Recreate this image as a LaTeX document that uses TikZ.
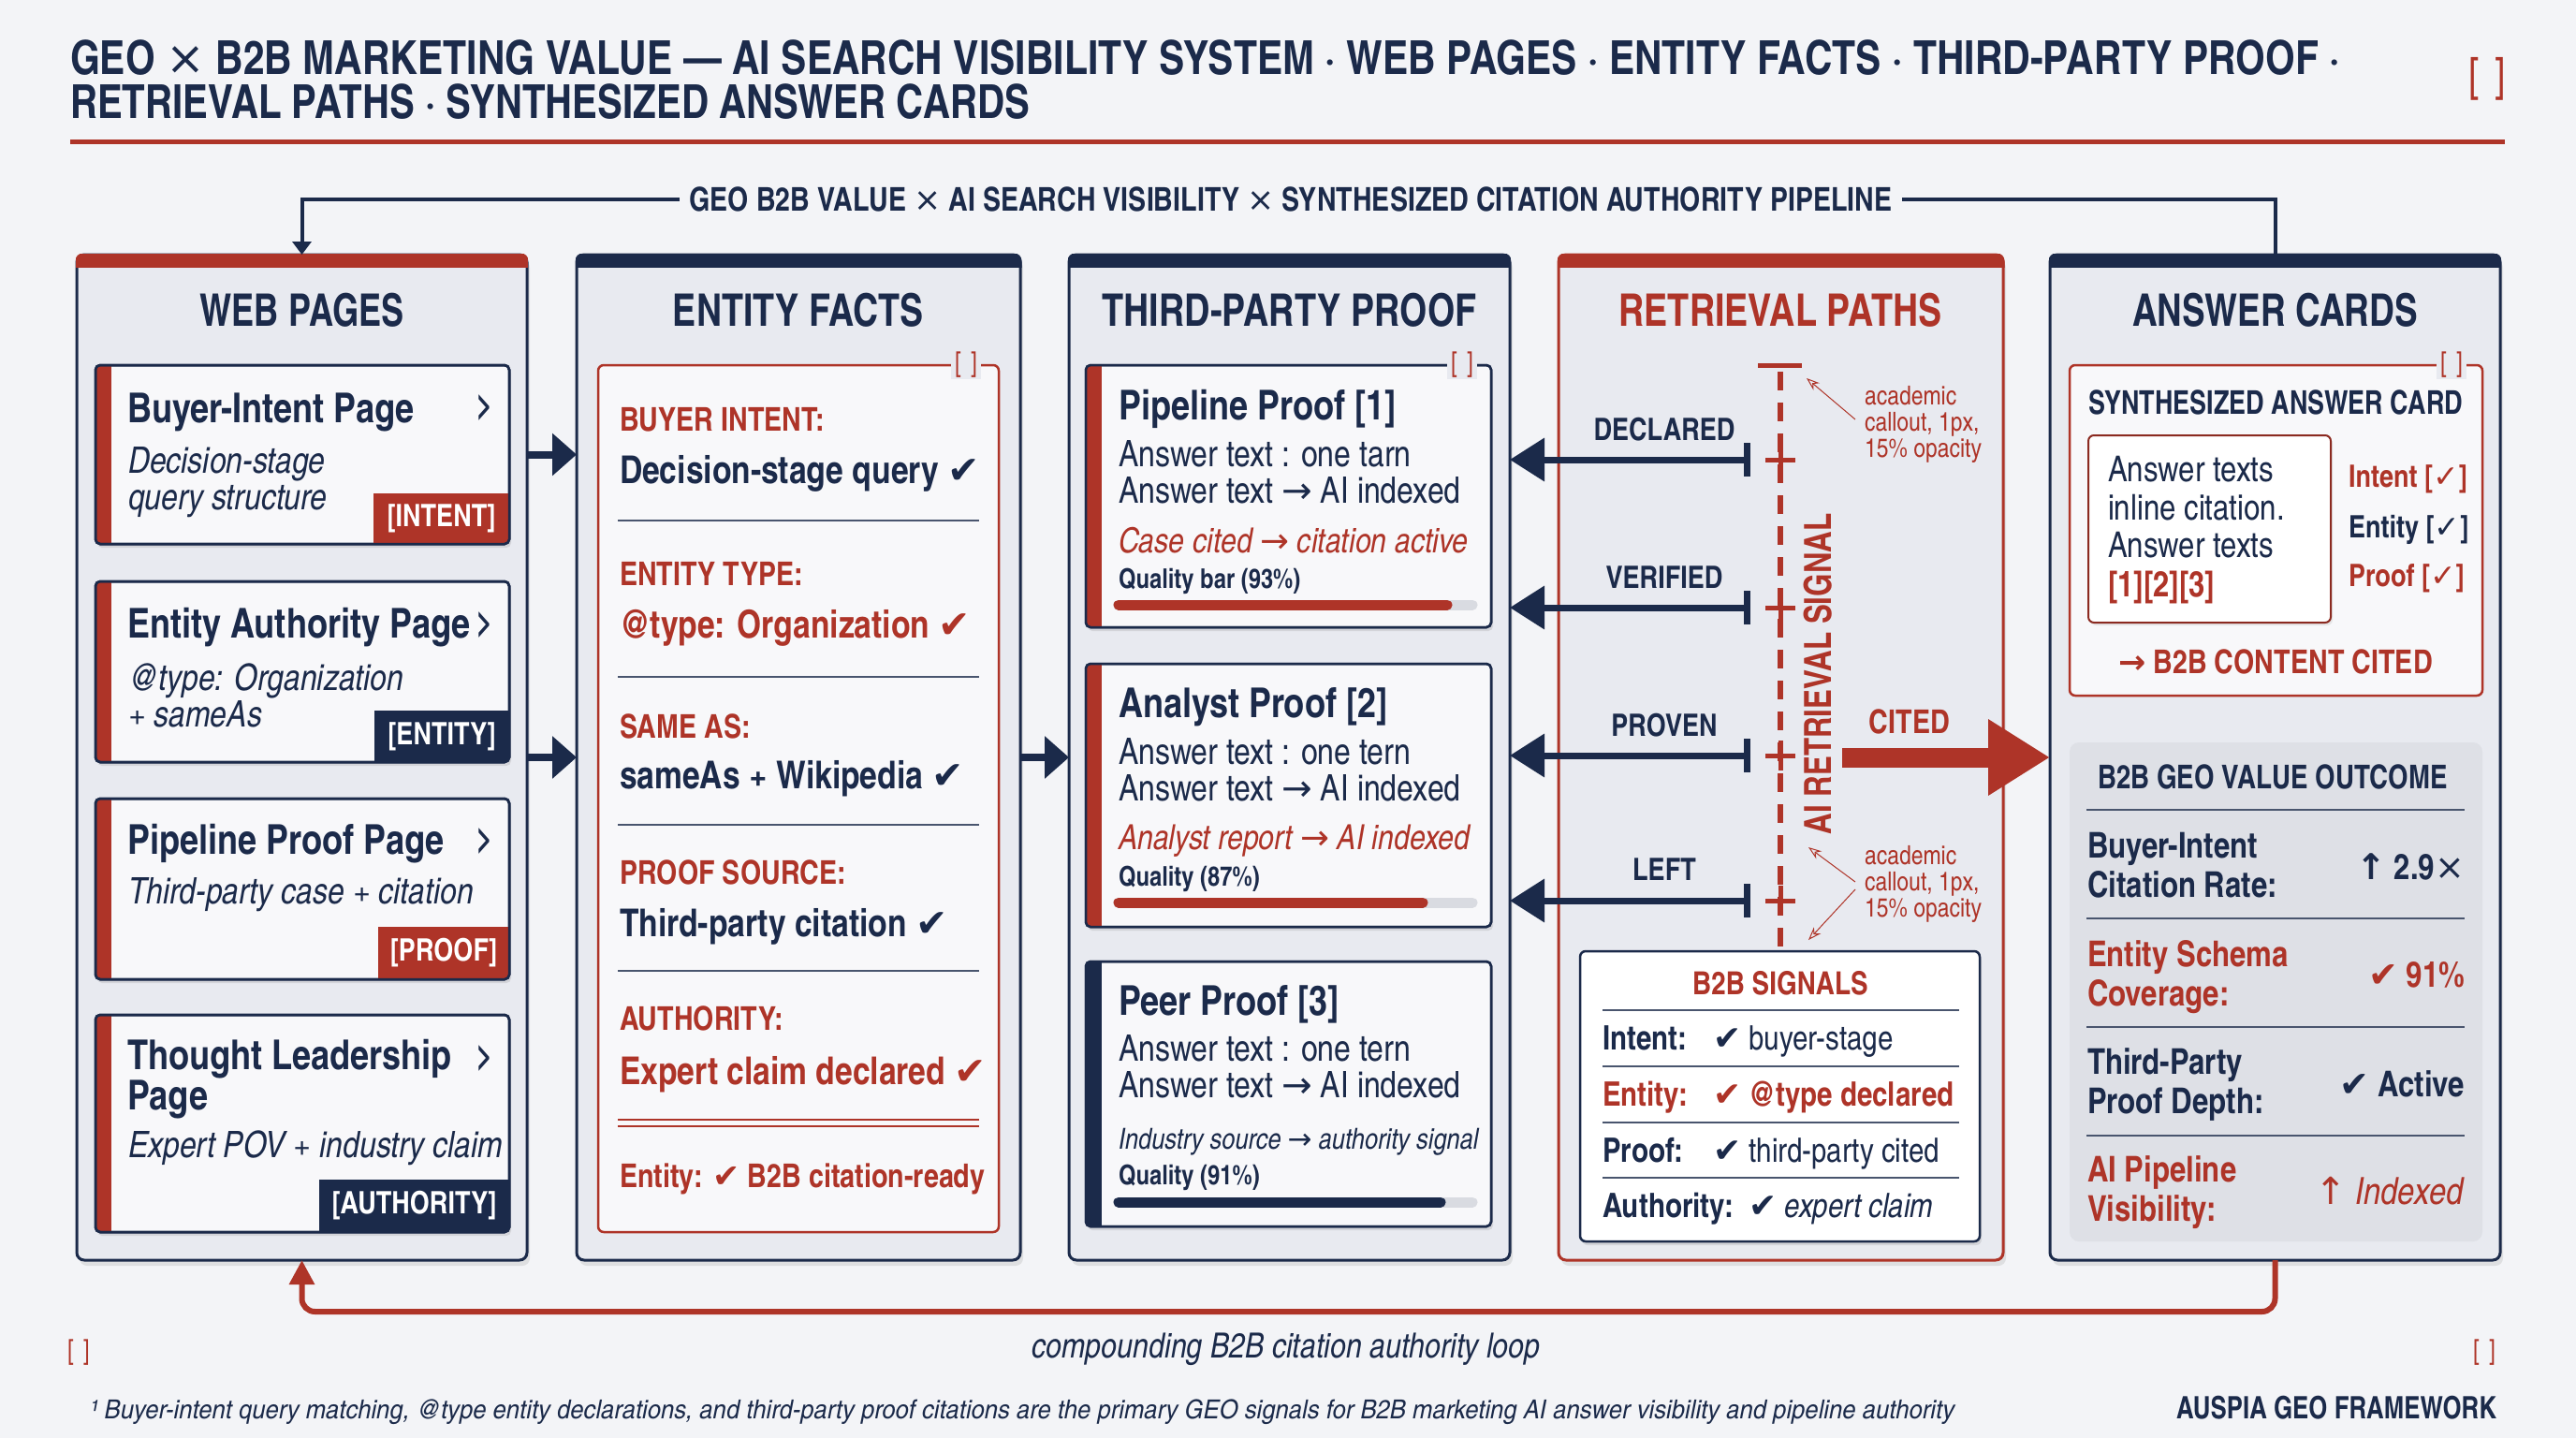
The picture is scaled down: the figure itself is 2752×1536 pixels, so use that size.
\documentclass[tikz,border=0pt]{standalone}
\usepackage{fontspec}
\usepackage{graphicx}
\setmainfont{TeX Gyre Heros}
\newfontfamily\cn{texgyreheroscn}[Extension=.otf,UprightFont=*-regular,BoldFont=*-bold,ItalicFont=*-italic,BoldItalicFont=*-bolditalic]
\newfontfamily\sym{DejaVu Sans}
\usetikzlibrary{arrows.meta,shadows,calc}
\definecolor{navy}{HTML}{1B2A4A}
\definecolor{brick}{HTML}{AE3428}
\definecolor{bgc}{HTML}{F3F4F7}
\definecolor{panelfill}{HTML}{E8EAF0}
\definecolor{cardfill}{HTML}{F8F8FA}
\definecolor{outfill}{HTML}{DEE0E6}
\definecolor{trackc}{HTML}{D9DBE1}
\newcommand\fz[1]{\fontsize{#1pt}{#1pt}\selectfont}
\newcommand\ck{{\sym ✓}}
\newcommand\ckb{{\sym\mdseries ✔}}
\newcommand\arr{{\sym →}}
\newcommand\upa{{\sym ↑}}
\newcommand\tms{{\sym\mdseries ×}}
\newcommand\fitw[2]{\resizebox{#1pt}{\height}{#2}}
\newcommand\cstripe[3]{%
  \begin{scope}
  \clip[rounded corners=5pt] (#1.north west) rectangle (#1.south east);
  \fill[#2] (#1.north west) rectangle ([xshift=#3]#1.south west);
  \end{scope}
  \draw[navy, line width=2.5pt, rounded corners=5pt] (#1.north west) rectangle (#1.south east);}
\newcommand\ctag[6]{%
  \begin{scope}
  \clip[rounded corners=5pt] (#1.north west) rectangle (#1.south east);
  \fill[#2] ([xshift=-#3,yshift=#4]#1.south east) rectangle (#1.south east);
  \end{scope}
  \node[font=\cn\bfseries\fz{33}, text=white] (#6) at ([xshift=-#3/2,yshift=#4/2]#1.south east) {#5};
  \draw[navy, line width=2.5pt, rounded corners=5pt] (#1.north west) rectangle (#1.south east);}
\newcommand\pband[2]{%
  \begin{scope}
  \clip[rounded corners=8pt] ([xshift=-1.5pt,yshift=1.5pt]#1.north west) rectangle ([xshift=1.5pt,yshift=-1.5pt]#1.south east);
  \fill[#2] ([xshift=-1.5pt,yshift=1.5pt]#1.north west) rectangle ([xshift=1.5pt,yshift=-14pt]#1.north east);
  \end{scope}}
\begin{document}
\begin{tikzpicture}[x=1pt,y=-1pt,
  every node/.style={inner sep=0pt,outer sep=0pt},
  tx/.style={anchor=base west,text=navy},
  ctr/.style={anchor=base,text=navy},
  rt/.style={anchor=base east,text=navy},
  panel/.style={fill=panelfill,draw=navy,line width=3pt,rounded corners=8pt,drop shadow={shadow xshift=3pt,shadow yshift=-6pt,opacity=0.18}},
  card/.style={fill=cardfill,draw=navy,line width=2.5pt,rounded corners=5pt,drop shadow={shadow xshift=2pt,shadow yshift=-4pt,opacity=0.2}},
  sepl/.style={draw=navy!80,line width=1.5pt},
  qbar/.style={line width=11pt,line cap=round},
  hdr/.style={anchor=base,font=\cn\bfseries\fz{48},text=navy},
  ctitle/.style={tx,font=\cn\bfseries\fz{44}},
  csub/.style={tx,font=\cn\itshape\fz{39}},
  body/.style={tx,font=\cn\fz{39}},
  chev/.style={font=\cn\bfseries\fz{40},text=navy},
  brk/.style={font=\cn\fz{30},text=brick,fill=panelfill,inner xsep=4pt,inner ysep=1pt},
  eflab/.style={tx,font=\cn\bfseries\fz{35},text=brick},
  efval/.style={tx,font=\cn\bfseries\fz{41}},
  navarr/.style={draw=navy,line width=8pt,-{Triangle[length=26pt,width=44pt]}},
  retarr/.style={draw=navy,line width=7pt,{Triangle[length=37pt,width=45pt]}-{Bar[width=36pt]}},
  rlab/.style={ctr,font=\cn\bfseries\fz{33}},
  callt/.style={tx,font=\cn\fz{28},text=brick},
  callarr/.style={draw=brick,line width=1pt,-{Stealth[open,length=14pt,width=10pt]}},
  siglab/.style={tx,font=\cn\bfseries\fz{36}},
  sigval/.style={tx,font=\cn\fz{36}},
  outlab/.style={tx,font=\cn\bfseries\fz{38}},
  outval/.style={rt,font=\cn\bfseries\fz{38}}
]
\fill[bgc] (0,0) rectangle (2752,1536);
\useasboundingbox (0,0) rectangle (2752,1536);

% ---------- title ----------
\node[tx,font=\cn\bfseries\fz{50}] (ttl1) at (75,80) {\fitw{2425}{GEO \tms{} B2B MARKETING VALUE — AI SEARCH VISIBILITY SYSTEM · WEB PAGES · ENTITY FACTS · THIRD-PARTY PROOF ·}};
\node[tx,font=\cn\bfseries\fz{50}] (ttl2) at (75,127) {\fitw{1025}{RETRIEVAL PATHS · SYNTHESIZED ANSWER CARDS}};
\node[font=\cn\fz{50},text=brick] (tbr) at (2657,84) {[\,\,]};
\draw[brick,line width=5pt] (75,152) -- (2676,152);

% ---------- panels ----------
\node[panel,minimum width=481pt,minimum height=1074pt] (wp) at (322.5,809) {};
\node[panel,minimum width=474pt,minimum height=1074pt] (ef) at (853,809) {};
\node[panel,minimum width=471pt,minimum height=1074pt] (tp) at (1377.5,809) {};
\node[panel,draw=brick,minimum width=475pt,minimum height=1074pt] (rp) at (1902.5,809) {};
\node[panel,minimum width=481pt,minimum height=1074pt] (ac) at (2430.5,809) {};
\pband{wp}{brick}\pband{ef}{navy}\pband{tp}{navy}\pband{rp}{brick}\pband{ac}{navy}

\node[hdr] (h1) at (322.5,348) {\fitw{218}{WEB PAGES}};
\node[hdr] (h2) at (853,348) {\fitw{268}{ENTITY FACTS}};
\node[hdr] (h3) at (1377.5,348) {\fitw{400}{THIRD-PARTY PROOF}};
\node[hdr,text=brick] (h4) at (1902,348) {\fitw{345}{RETRIEVAL PATHS}};
\node[hdr] (h5) at (2430.5,348) {\fitw{305}{ANSWER CARDS}};

% ---------- pipeline connector ----------
\draw[navy,line width=4pt,-{Triangle[length=14pt,width=20pt]}] (ac.north) -- ++(0,-59) -| (wp.north);
\node[font=\cn\bfseries\fz{35},text=navy,fill=bgc,inner xsep=10pt,inner ysep=4pt] (pipe) at (1379,213) {\fitw{1285}{GEO B2B VALUE \tms{} AI SEARCH VISIBILITY \tms{} SYNTHESIZED CITATION AUTHORITY PIPELINE}};

% ---------- web pages ----------
\node[card,minimum width=442pt,minimum height=191pt] (wp1) at (323,485.5) {};
\node[card,minimum width=442pt,minimum height=193pt] (wp2) at (323,717.5) {};
\node[card,minimum width=442pt,minimum height=193pt] (wp3) at (323,949.5) {};
\node[card,minimum width=442pt,minimum height=232pt] (wp4) at (323,1200) {};
\cstripe{wp1}{brick}{17pt}\cstripe{wp2}{brick}{17pt}\cstripe{wp3}{brick}{17pt}\cstripe{wp4}{brick}{17pt}
\ctag{wp1}{brick}{145pt}{54pt}{[INTENT]}{tg1}
\ctag{wp2}{navy}{144pt}{55pt}{[ENTITY]}{tg2}
\ctag{wp3}{brick}{140pt}{56pt}{[PROOF]}{tg3}
\ctag{wp4}{navy}{203pt}{56pt}{[AUTHORITY]}{tg4}

\node[ctitle] (w1t) at (136,451) {Buyer-Intent Page};
\node[chev] (cv1) at (518,435) {>};
\node[csub] (w1a) at (137,505) {Decision-stage};
\node[csub] (w1b) at (137,544) {query structure};

\node[ctitle] (w2t) at (136,681) {Entity Authority Page};
\node[chev] (cv2) at (518,667) {>};
\node[csub] (w2a) at (137,737) {@type: Organization};
\node[csub] (w2b) at (137,776) {+ sameAs};

\node[ctitle] (w3t) at (136,912) {Pipeline Proof Page};
\node[chev] (cv3) at (518,898) {>};
\node[csub] (w3a) at (137,965) {Third-party case + citation};

\node[ctitle] (w4t) at (136,1142) {Thought Leadership};
\node[ctitle] (w4u) at (136,1185) {Page};
\node[chev] (cv4) at (518,1130) {>};
\node[csub] (w4a) at (137,1236) {Expert POV + industry claim};

% ---------- entity facts ----------
\node[fill=cardfill,draw=brick,line width=2.5pt,rounded corners=6pt,minimum width=428pt,minimum height=926pt] (efb) at (853,853) {};
\node[brk] (efbr) at (1032,390) {[\,\,]};
\node[eflab] (e1l) at (662,460) {BUYER INTENT:};
\node[efval] (e1v) at (662,516) {Decision-stage query \ckb};
\draw[sepl] (660,556) -- (1046,556);
\node[eflab] (e2l) at (662,625) {ENTITY TYPE:};
\node[efval,text=brick] (e2v) at (662,681) {@type: Organization \ckb};
\draw[sepl] (660,723) -- (1046,723);
\node[eflab] (e3l) at (662,788) {SAME AS:};
\node[efval] (e3v) at (662,842) {sameAs + Wikipedia \ckb};
\draw[sepl] (660,881) -- (1046,881);
\node[eflab] (e4l) at (662,944) {PROOF SOURCE:};
\node[efval] (e4v) at (662,1000) {Third-party citation \ckb};
\draw[sepl] (660,1037) -- (1046,1037);
\node[eflab] (e5l) at (662,1100) {AUTHORITY:};
\node[efval,text=brick] (e5v) at (662,1158) {Expert claim declared \ckb};
\draw[brick,line width=1.5pt] (660,1196) -- (1046,1196);
\draw[brick,line width=1.5pt] (660,1203) -- (1046,1203);
\node[tx,font=\cn\bfseries\fz{35},text=brick] (e6) at (662,1268) {Entity: \ckb{} B2B citation-ready};

% ---------- third-party proof ----------
\node[card,minimum width=433pt,minimum height=280pt] (tp1) at (1376.5,530) {};
\node[card,minimum width=433pt,minimum height=281pt] (tp2) at (1376.5,849.5) {};
\node[card,minimum width=433pt,minimum height=283pt] (tp3) at (1376.5,1168.5) {};
\cstripe{tp1}{brick}{17pt}\cstripe{tp2}{brick}{17pt}\cstripe{tp3}{navy}{17pt}
\node[brk] (tpbr) at (1562,390) {[\,\,]};

\node[ctitle] (p1t) at (1195,448) {Pipeline Proof [1]};
\node[body] (p1a) at (1195,498) {Answer text : one tarn};
\node[body] (p1b) at (1195,537) {Answer text \arr{} AI indexed};
\node[tx,font=\cn\itshape\fz{37},text=brick] (p1c) at (1195,590) {Case cited \arr{} citation active};
\node[tx,font=\cn\bfseries\fz{29}] (p1d) at (1195,628) {Quality bar (93\%)};
\draw[qbar,trackc] (1195,646) -- (1573,646);
\draw[qbar,brick] (1195,646) -- (1546,646);

\node[ctitle] (p2t) at (1195,766) {Analyst Proof [2]};
\node[body] (p2a) at (1195,816) {Answer text : one tern};
\node[body] (p2b) at (1195,855) {Answer text \arr{} AI indexed};
\node[tx,font=\cn\itshape\fz{37},text=brick] (p2c) at (1195,907) {Analyst report \arr{} AI indexed};
\node[tx,font=\cn\bfseries\fz{29}] (p2d) at (1195,946) {Quality (87\%)};
\draw[qbar,trackc] (1195,964) -- (1573,964);
\draw[qbar,brick] (1195,964) -- (1520,964);

\node[ctitle] (p3t) at (1195,1084) {Peer Proof [3]};
\node[body] (p3a) at (1195,1133) {Answer text : one tern};
\node[body] (p3b) at (1195,1172) {Answer text \arr{} AI indexed};
\node[tx,font=\cn\itshape\fz{31}] (p3c) at (1195,1227) {Industry source \arr{} authority signal};
\node[tx,font=\cn\bfseries\fz{29}] (p3d) at (1195,1265) {Quality (91\%)};
\draw[qbar,trackc] (1195,1284) -- (1573,1284);
\draw[qbar,navy] (1195,1284) -- (1539,1284);

% ---------- arrows between first panels ----------
\draw[navarr] (wp.east |- wp1.east) -- (ef.west |- wp1.east);
\draw[navarr] (wp.east) -- (ef.west);
\draw[navarr] (ef.east) -- (tp.west);

% ---------- retrieval paths ----------
\draw[brick,line width=6pt,dash pattern=on 20pt off 13pt] (1902,397) -- (1902,1014);
\draw[brick,line width=5pt] (1878,390) -- (1925,390);
\foreach \yy in {491,649,807,962}{
  \draw[brick,line width=5pt] (1886,\yy) -- (1918,\yy) (1902,\yy-16) -- (1902,\yy+16);}
\coordinate (s1) at (1870,491);
\coordinate (s2) at (1870,649);
\coordinate (s3) at (1870,807);
\coordinate (s4) at (1870,962);
\draw[retarr] (tp.east |- s1) -- (s1);
\draw[retarr] (tp.east |- s2) -- (s2);
\draw[retarr] (tp.east |- s3) -- (s3);
\draw[retarr] (tp.east |- s4) -- (s4);
\node[rlab] (l1) at (1778,470) {DECLARED};
\node[rlab] (l2) at (1778,628) {VERIFIED};
\node[rlab] (l3) at (1778,786) {PROVEN};
\node[rlab] (l4) at (1778,940) {LEFT};
\node[rotate=90,font=\cn\bfseries\fz{40},text=brick] (ais) at (1942,720) {\fitw{343}{AI RETRIEVAL SIGNAL}};
\node[ctr,font=\cn\bfseries\fz{35},text=brick] (cited) at (2040,783) {CITED};
\coordinate (cs) at (1968,809);
\draw[brick,line width=21pt,-{Triangle[length=66pt,width=77pt]}] (cs) -- (ac.west);

\node[callt] (c1a) at (1992,432) {academic};
\node[callt] (c1b) at (1992,460) {callout, 1px,};
\node[callt] (c1c) at (1992,488) {15\% opacity};
\node[callt] (c2a) at (1992,923) {academic};
\node[callt] (c2b) at (1992,951) {callout, 1px,};
\node[callt] (c2c) at (1992,979) {15\% opacity};
\coordinate (ca1) at (1982,448); \coordinate (cb1) at (1930,404);
\coordinate (ca2) at (1982,942); \coordinate (cb2) at (1932,905);
\coordinate (ca3) at (1982,950); \coordinate (cb3) at (1932,1004);
\draw[callarr] (ca1) -- (cb1);
\draw[callarr] (ca2) -- (cb2);
\draw[callarr] (ca3) -- (cb3);

\node[fill=white,draw=navy,line width=2.5pt,rounded corners=6pt,minimum width=427pt,minimum height=310pt,drop shadow={shadow xshift=2pt,shadow yshift=-4pt,opacity=0.2}] (sig) at (1901.5,1171) {};
\node[ctr,font=\cn\bfseries\fz{34},text=brick] (sigt) at (1902,1062) {B2B SIGNALS};
\draw[sepl] (1712,1079) -- (2093,1079);
\draw[sepl] (1712,1139) -- (2093,1139);
\draw[sepl] (1712,1199) -- (2093,1199);
\draw[sepl] (1712,1258) -- (2093,1258);
\node[siglab] (g1l) at (1712,1121) {Intent:};
\node[sigval] (g1v) at (1830,1121) {\ckb{} buyer-stage};
\node[siglab,text=brick] (g2l) at (1712,1181) {Entity:};
\node[siglab,text=brick] (g2v) at (1830,1181) {\ckb{} @type declared};
\node[siglab] (g3l) at (1712,1241) {Proof:};
\node[sigval] (g3v) at (1830,1241) {\ckb{} third-party cited};
\node[siglab] (g4l) at (1712,1300) {Authority:};
\node[sigval] (g4v) at (1868,1300) {\ckb{} \textit{expert claim}};

% ---------- answer cards ----------
\node[fill=cardfill,draw=brick,line width=2.5pt,rounded corners=6pt,minimum width=441pt,minimum height=353pt] (syn) at (2431.5,566.5) {};
\node[brk] (acbr) at (2619,390) {[\,\,]};
\node[ctr,font=\cn\bfseries\fz{35}] (synt) at (2431,442) {\fitw{400}{SYNTHESIZED ANSWER CARD}};
\node[fill=white,draw=brick!80!black,line width=2pt,rounded corners=6pt,minimum width=259pt,minimum height=200pt,drop shadow={shadow xshift=2pt,shadow yshift=-3pt,opacity=0.15}] (inner) at (2360.5,565) {};
\node[body,font=\cn\fz{38}] (i1) at (2252,514) {Answer texts};
\node[body,font=\cn\fz{38}] (i2) at (2252,555) {inline citation.};
\node[body,font=\cn\fz{38}] (i3) at (2252,595) {Answer texts};
\node[tx,font=\cn\bfseries\fz{38},text=brick] (i4) at (2252,637) {[1][2][3]};
\node[tx,font=\cn\bfseries\fz{33},text=brick] (k1) at (2509,520) {Intent [\ck]};
\node[tx,font=\cn\bfseries\fz{33}] (k2) at (2509,574) {Entity [\ck]};
\node[tx,font=\cn\bfseries\fz{33},text=brick] (k3) at (2509,626) {Proof [\ck]};
\node[ctr,font=\cn\bfseries\fz{35},text=brick] (bcc) at (2431,719) {\arr{} B2B CONTENT CITED};

\node[fill=outfill,rounded corners=10pt,minimum width=441pt,minimum height=533pt] (out) at (2431.5,1059.5) {};
\node[ctr,font=\cn\bfseries\fz{35}] (outt) at (2428,842) {\fitw{374}{B2B GEO VALUE OUTCOME}};
\draw[sepl] (2229,865) -- (2633,865);
\draw[sepl] (2229,981) -- (2633,981);
\draw[sepl] (2229,1097) -- (2633,1097);
\draw[sepl] (2229,1213) -- (2633,1213);
\node[outlab] (o1a) at (2230,916) {Buyer-Intent};
\node[outlab] (o1b) at (2230,958) {Citation Rate:};
\node[outval] (o1v) at (2633,939) {\upa{} 2.9\tms};
\node[outlab,text=brick] (o2a) at (2230,1032) {Entity Schema};
\node[outlab,text=brick] (o2b) at (2230,1074) {Coverage:};
\node[outval,text=brick] (o2v) at (2633,1054) {\ckb{} 91\%};
\node[outlab] (o3a) at (2230,1147) {Third-Party};
\node[outlab] (o3b) at (2230,1189) {Proof Depth:};
\node[outval] (o3v) at (2633,1171) {\ckb{} Active};
\node[outlab,text=brick] (o4a) at (2230,1262) {AI Pipeline};
\node[outlab,text=brick] (o4b) at (2230,1304) {Visibility:};
\node[outval,text=brick,font=\cn\mdseries\fz{40}] (o4v) at (2633,1286) {\upa{} \textit{Indexed}};

% ---------- loop ----------
\draw[brick,line width=6pt,rounded corners=14pt,-{Triangle[length=26pt,width=26pt]}] (ac.south) -- ++(0,55) -| (wp.south);
\node[ctr,font=\cn\itshape\fz{37}] (loop) at (1374,1450) {compounding B2B citation authority loop};
\node[font=\cn\fz{30},text=brick] (bl) at (84,1445) {[\,\,]};
\node[font=\cn\fz{30},text=brick] (br) at (2654,1445) {[\,\,]};
\node[tx,font=\cn\itshape\fz{28}] (fn) at (96,1515) {\fitw{1992}{¹ Buyer-intent query matching, @type entity declarations, and third-party proof citations are the primary GEO signals for B2B marketing AI answer visibility and pipeline authority}};
\node[rt,font=\cn\bfseries\fz{33}] (brand) at (2667,1515) {\fitw{342}{AUSPIA GEO FRAMEWORK}};
\end{tikzpicture}
\end{document}
